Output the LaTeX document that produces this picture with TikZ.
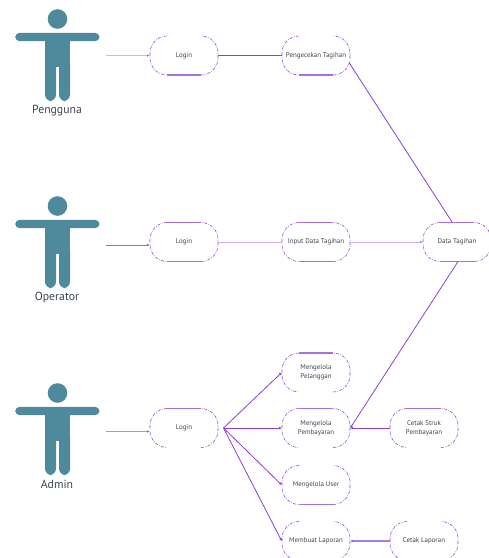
\documentclass[tikz,border=0pt]{standalone}
\usepackage{fontspec}
\setmainfont{PT Sans}
\usetikzlibrary{arrows.meta}
\definecolor{actorblue}{HTML}{4F899C}
\definecolor{pline}{HTML}{8A3FD6}
\definecolor{txt}{HTML}{3C4650}
\tikzset{
 pillbase/.style={minimum width=51pt,minimum height=29.25pt,align=center,text=txt,inner sep=0pt,font=\fontsize{5.2pt}{7pt}\selectfont},
 outline/.style={pline,line width=0.4pt,dash pattern=on 2.4pt off 1pt on .5pt off 1pt},
 flat/.style={pline,draw opacity=.75,line width=0.85pt},
 conn/.style={pline,line width=0.6pt},
 faint/.style={conn,draw opacity=.4,line width=.7pt},
 tip/.style={-{Latex[length=2pt,width=2pt]}},
 actorlabel/.style={text=txt,font=\fontsize{8.8pt}{10pt}\selectfont,inner sep=0pt},
}
\begin{document}
\begin{tikzpicture}[x=0.75pt,y=-0.75pt]
\useasboundingbox (0,0) rectangle (489,558);
\fill[white] (0,0) rectangle (489,558);
\foreach \yy in {37,224,411}{
 \begin{scope}[shift={(57.5,\yy)}]
  \fill[actorblue] (0,-18) circle (9.8);
  \fill[actorblue,rounded corners=3.4] (-42.3,-4.2) rectangle (42,4.2);
  \fill[actorblue] (-12.5,0) rectangle (12.5,30);
  \fill[actorblue,rounded corners=4.8] (-12.5,20) rectangle (-1.5,64);
  \fill[actorblue,rounded corners=4.8] (1.5,20) rectangle (12.5,64);
 \end{scope}
}
\node[actorlabel] (lblA) at (57,110.5) {Pengguna};
\node[actorlabel] (lblB) at (57,297) {Operator};
\node[actorlabel] (lblC) at (57,484) {Admin};
\coordinate (fromA) at (106,55.5);
\coordinate (fromB) at (106,245);
\coordinate (fromC) at (106,431.5);
\foreach \n/\x/\y/\t/\top/\bot in {
 la/184/55.5/{Login}/0/1,
 pt/316/55.5/{Pengecekan Tagihan}/0/1,
 lb/184/242/{Login}/1/1,
 id/316/242/{Input Data Tagihan}/1/1,
 dt/457/242/{Data Tagihan}/1/1,
 lc/184/428/{Login}/1/0,
 mp/316/372.5/{Mengelola\\Pelanggan}/1/0,
 mb/316/428/{Mengelola\\Pembayaran}/1/0,
 cs/424/428/{Cetak Struk\\Pembayaran}/1/0,
 mu/316/485/{Mengelola User}/0/1,
 ml/316/541/{Membuat Laporan}/0/0,
 cl/424/541/{Cetak Laporan}/0/0}{
 \node[pillbase] (\n) at (\x,\y) {\t};
 \draw[outline] (\x-17,\y-19.5) arc (270:180:17) -- ++(0,5) arc (180:90:17);
 \draw[outline] (\x+17,\y+19.5) arc (90:0:17) -- ++(0,-5) arc (0:-90:17);
 \ifnum\top=1 \draw[flat] (\x-17,\y-19.5) -- (\x+17,\y-19.5);\fi
 \ifnum\bot=1 \draw[flat] (\x-17,\y+19.5) -- (\x+17,\y+19.5);\fi
}
\draw[faint,tip] (fromA) -- (fromA -| la.west);
\draw[conn,draw opacity=.8,tip] (fromB) -- (fromB -| lb.west);
\draw[conn,draw opacity=.6,tip,line width=.8pt] (fromC) -- (fromC -| lc.west);
\draw[conn] (la.east) -- (pt.west);
\draw[faint,line width=.5pt] (lb.east) -- (id.west);
\draw[faint,tip] (id.east) -- (dt.west);
\coordinate (ptexit) at (349,62.5);
\coordinate (dttop) at (452,222);
\coordinate (dtbot) at (458,261.5);
\draw[conn] (ptexit) -- (dttop);
\draw[conn,tip] (dtbot) -- (mb.east);
\coordinate (hub) at (223.5,428);
\draw[conn,tip] (hub) -- (mp.west);
\draw[conn,tip] (hub) -- (mb.west);
\draw[conn,tip] (hub) -- (mu.west);
\draw[conn,tip] (hub) -- (ml.west);
\draw[conn,tip] (cs.west) -- (mb.east);
\draw[conn,draw opacity=.7,tip,line width=.8pt] (cl.west) -- (ml.east);
\end{tikzpicture}
\end{document}
